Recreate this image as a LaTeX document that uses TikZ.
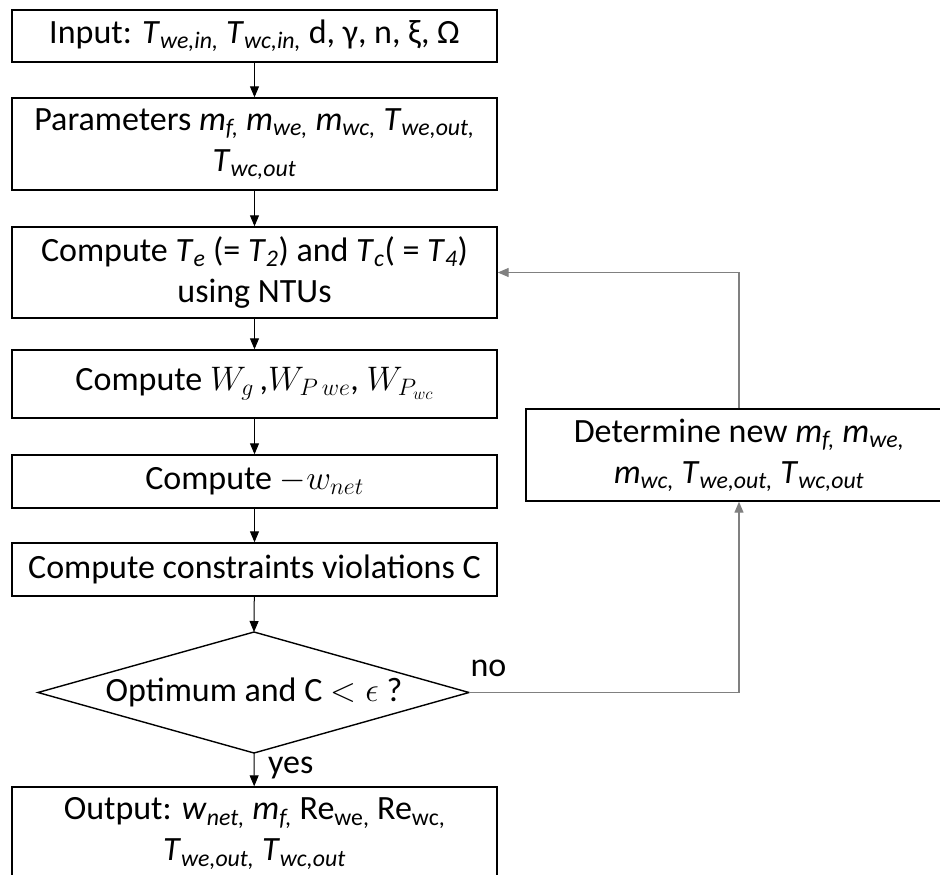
\RequirePackage{fix-cm}
\documentclass[tikz,border=0pt]{standalone}
\usepackage{fontspec}
\setmainfont{Carlito}
\usetikzlibrary{arrows.meta}
% italic symbol with italic subscript
\newcommand\vsub[2]{\textit{#1}\textsubscript{\textit{#2}}}
\begin{document}
\begin{tikzpicture}[x=1pt,y=-1pt,
  box/.style={draw=black,line width=1.4pt,minimum width=485pt,inner sep=0pt,
    align=center,font=\fontsize{34}{41}\selectfont},
  conn/.style={line width=1pt,-{Triangle[length=11pt,width=9pt]}},
  back/.style={conn,draw=black!50,line width=1.3pt},
  lab/.style={font=\fontsize{34}{41}\selectfont,inner sep=0pt}]
\clip (0,0) rectangle (940,875);
\fill[white] (0,0) rectangle (940,875);

% main column
\node[box,minimum height=52pt] (in) at (254.5,36)
  {Input: \vsub{T}{we,in,} \vsub{T}{wc,in,} d, γ, n, ξ, Ω};
\node[box,minimum height=92pt] (par) at (254.5,144)
  {Parameters \vsub{m}{f,} \vsub{m}{we,} \vsub{m}{wc,} \vsub{T}{we,out,}\\ \vsub{T}{wc,out}};
\node[box,minimum height=91pt] (te) at (254.5,272.5)
  {Compute \vsub{T}{e} (= \vsub{T}{2}) and \vsub{T}{c}( = \vsub{T}{4})\\ using NTUs};
\node[box,minimum height=68pt] (wg) at (254.5,384)
  {Compute $W_g$\,,$W_{P\,we}$, $W_{P_{wc}}$};
\node[box,minimum height=53pt] (wn) at (254.5,481.5)
  {Compute $-w_{net}$};
\node[box,minimum height=53pt] (cv) at (254.5,569.5)
  {Compute constraints violations C};

% decision
\node[lab] (dec) at (254,692.5) {Optimum and C $<\epsilon$ ?};
\coordinate (dtop) at (254,632);
\coordinate (dbot) at (254,753);
\coordinate (dleft) at (38,692.5);
\coordinate (dright) at (469,692.5);
\draw[line width=1.4pt,line join=miter] (dtop) -- (dright) -- (dbot) -- (dleft) -- cycle;

\node[box,minimum height=93pt] (out) at (254.5,833.5)
  {Output: \vsub{w}{net,} \vsub{m}{f,} Re\textsubscript{we,} Re\textsubscript{wc,}\\ \vsub{T}{we,out,} \vsub{T}{wc,out}};

% feedback branch
\node[box,minimum width=426pt,minimum height=92pt] (det) at (739,455)
  {Determine new \vsub{m}{f,} \vsub{m}{we,}\\ \vsub{m}{wc,} \vsub{T}{we,out,} \vsub{T}{wc,out}};

% connectors
\draw[conn] (in) -- (par);
\draw[conn] (par) -- (te);
\draw[conn] (te) -- (wg);
\draw[conn] (wg) -- (wn);
\draw[conn] (wn) -- (cv);
\draw[conn] (cv) -- (dtop);
\draw[conn] (dbot) -- (out);
\draw[back] (dright) -- (det.south |- dright) -- (det.south);
\draw[back] (det.north) -- (det.north |- te.east) -- (te.east);

\node[lab,anchor=west] (yes) at (268,768) {yes};
\node[lab] (no) at (488.5,668) {no};
\end{tikzpicture}
\end{document}
